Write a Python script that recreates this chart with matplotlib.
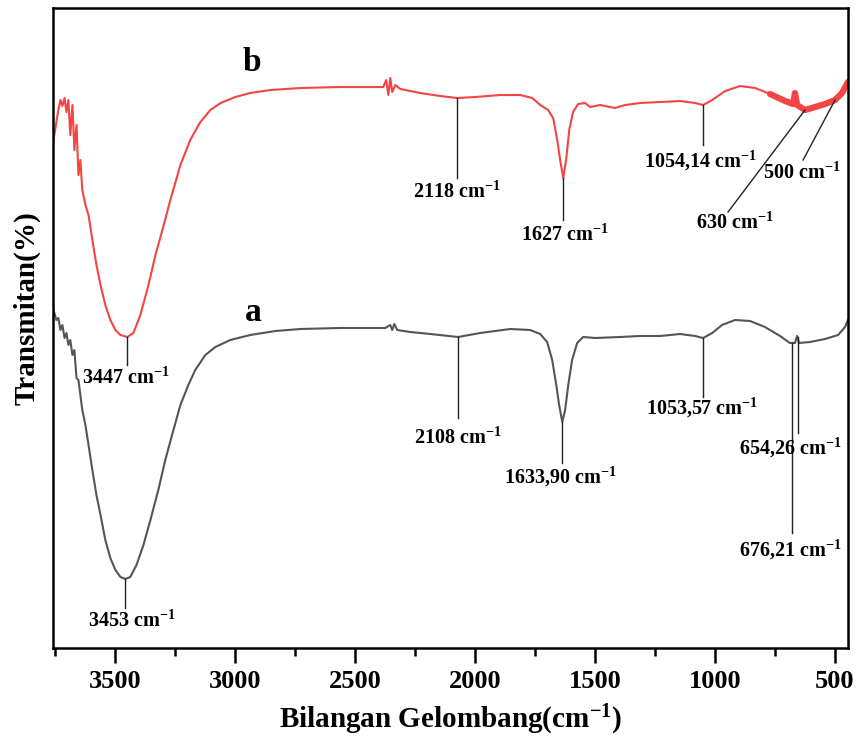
import matplotlib
matplotlib.use('Agg')
import matplotlib.pyplot as plt
from matplotlib.ticker import MultipleLocator

plt.rcParams['font.family'] = 'Liberation Serif'
plt.rcParams['font.weight'] = 'bold'
plt.rcParams['mathtext.fontset'] = 'custom'
plt.rcParams['mathtext.rm'] = 'Liberation Serif:bold'
plt.rcParams['mathtext.bf'] = 'Liberation Serif:bold'
plt.rcParams['mathtext.it'] = 'Liberation Serif:bold'

# spectrum b (red), wavenumber vs. relative transmittance (arbitrary units)
wn_b = [3758, 3746, 3738, 3729, 3721, 3712, 3704, 3696, 3688, 3679, 3671, 3662,
        3654, 3646, 3638, 3625, 3612, 3596, 3579, 3562, 3542, 3521, 3500, 3479,
        3450, 3425, 3396, 3362, 3333, 3304, 3271, 3229, 3188, 3146, 3104, 3062,
        3000, 2938, 2854, 2729, 2562, 2383, 2371, 2362, 2354, 2346, 2333, 2312,
        2229, 2146, 2075, 2000, 1896, 1812, 1762, 1729, 1696, 1675, 1658, 1646,
        1633, 1621, 1608, 1592, 1571, 1542, 1521, 1479, 1417, 1375, 1312, 1229,
        1146, 1083, 1050, 1012, 958, 896, 833, 771, 708, 675, 667, 658, 625,
        583, 542, 500, 471, 446]
t_b = [508, 526, 538, 548, 542, 550, 536, 548, 513, 543, 498, 523,
       473, 488, 458, 443, 433, 408, 383, 363, 343, 328, 318, 313,
       311, 315, 333, 363, 393, 418, 448, 483, 508, 526, 538, 545,
       551, 555, 558, 560, 561, 561, 568, 553, 570, 556, 563, 559,
       555, 552, 550, 551, 553, 553, 550, 543, 538, 530, 508, 488,
       470, 488, 518, 536, 544, 545, 541, 543, 540, 543, 545, 546,
       547, 545, 543, 548, 557, 562, 560, 554, 547, 544, 555, 543, 538,
       541, 544, 548, 555, 566]

# spectrum a (grey)
wn_a = [3758, 3746, 3738, 3729, 3721, 3712, 3704, 3696, 3688, 3679, 3671, 3662,
        3654, 3646, 3638, 3625, 3612, 3596, 3579, 3562, 3542, 3521, 3500, 3479,
        3458, 3438, 3412, 3383, 3354, 3321, 3292, 3258, 3229, 3196, 3167, 3125,
        3083, 3021, 2938, 2833, 2729, 2562, 2375, 2354, 2346, 2337, 2325, 2271,
        2187, 2071, 1979, 1854, 1771, 1729, 1700, 1679, 1662, 1650, 1637, 1625,
        1612, 1596, 1575, 1550, 1500, 1396, 1312, 1229, 1146, 1083, 1050, 1012,
        971, 917, 854, 792, 729, 688, 667, 658, 650, 604, 542, 487, 458, 446]
t_a = [338, 328, 330, 318, 323, 310, 315, 303, 308, 293, 298, 270,
       268, 253, 238, 223, 203, 178, 153, 133, 108, 90, 78, 71,
       69, 71, 83, 103, 128, 158, 188, 218, 243, 263, 278, 293,
       301, 308, 313, 317, 319, 320, 320, 323, 318, 324, 318, 316,
       314, 311, 315, 319, 318, 314, 306, 288, 263, 243, 226, 238,
       263, 288, 305, 311, 310, 311, 312, 312, 314, 312, 310, 315,
       323, 328, 327, 321, 312, 305, 305, 312, 305, 306, 309, 313, 321, 328]

# peak labels: (line x0, y0, x1, y1, text x, text y, label)
peaks_b = [(3450, 311, 3450, 283, 3455, 270, '3447'),
           (2075, 550, 2075, 470, 2075, 456, '2118'),
           (1633, 470, 1633, 428, 1625, 413, '1627'),
           (1050, 543, 1050, 503, 1060, 487, '1054,14'),
           (625, 538, 946, 436, 917, 425, '630'),
           (500, 548, 633, 488, 637, 475, '500')]
peaks_a = [(3458, 69, 3458, 40, 3433, 27, '3453'),
           (2071, 311, 2071, 230, 2071, 210, '2108'),
           (1637, 226, 1637, 185, 1646, 171, '1633,90'),
           (1050, 310, 1050, 251, 1054, 240, '1053,57'),
           (654, 311, 654, 215, 687, 200, '654,26'),
           (679, 305, 679, 115, 687, 98, '676,21')]

fig = plt.figure(figsize=(8.58, 7.36), dpi=100)
ax = fig.add_axes([0.0618, 0.1196, 0.9265, 0.8695])

ax.plot(wn_a, t_a, color='#555555', lw=1.5)
ax.plot(wn_b, t_b, color='#f44444', lw=1.5)
# noisy thick tail of spectrum b
tail = [i for i, w in enumerate(wn_b) if w < 780]
ax.plot([wn_b[i] for i in tail], [t_b[i] for i in tail], color='#f44444', lw=4.5,
        solid_capstyle='round')

for peaks in (peaks_b, peaks_a):
    for x0, y0, x1, y1, tx, ty, lab in peaks:
        ax.plot([x0, x1], [y0, y1], color='#222222', lw=1.0)
        ax.text(tx, ty, lab + r' cm$^{-1}$', ha='center', va='center',
                fontsize=14.5, fontweight='bold')

ax.text(2929, 586, 'b', fontsize=24, fontweight='bold', ha='center', va='center')
ax.text(2925, 335, 'a', fontsize=24, fontweight='bold', ha='center', va='center')

ax.set_xlim(3760, 446)
ax.set_ylim(0, 640)
ax.xaxis.set_major_locator(MultipleLocator(500))
ax.xaxis.set_minor_locator(MultipleLocator(250))
ax.tick_params(axis='x', which='major', direction='out', length=11, width=1.8,
               labelsize=19, pad=5)
ax.tick_params(axis='x', which='minor', direction='out', length=6, width=1.8)
ax.set_yticks([])
for s in ax.spines.values():
    s.set_linewidth(1.8)
for lab in ax.get_xticklabels():
    lab.set_fontweight('bold')

ax.set_xlabel(r'Bilangan Gelombang(cm$^{-1}$)', fontsize=21, fontweight='bold',
              labelpad=7)
ax.set_ylabel('Transmitan(%)', fontsize=21, fontweight='bold')
ax.yaxis.set_label_coords(-0.016, 0.531)

fig.savefig('out.png', dpi=100)
